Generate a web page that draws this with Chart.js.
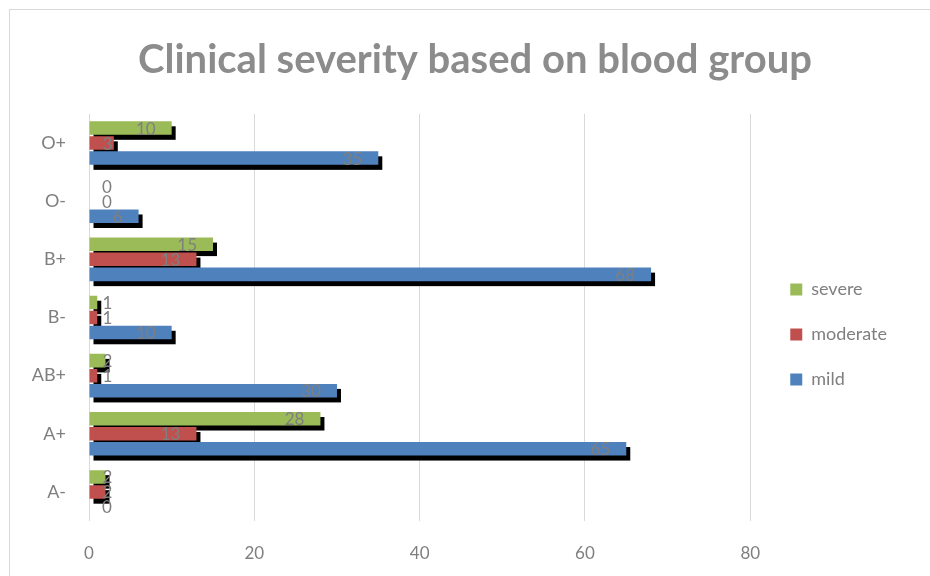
<!DOCTYPE html>
<html>
<head>
<meta charset="utf-8">
<title>Clinical severity based on blood group</title>
<script src="https://cdn.jsdelivr.net/npm/chart.js@4/dist/chart.umd.min.js"></script>
<style>
  html, body { margin: 0; padding: 0; background: #fff; overflow: hidden; }
  #frame { position: absolute; left: 9px; top: 9px; width: 1000px; height: 1000px; border: 1px solid #d9d9d9; }
  #chart { position: absolute; left: 0; top: 0; }
</style>
</head>
<body>
<div id="frame"></div>
<canvas id="chart" width="930" height="576"></canvas>
<script>
// blood groups, top to bottom
const categories = ['O+', 'O-', 'B+', 'B-', 'AB+', 'A+', 'A-'];
const severe   = [10, 0, 15, 1, 2, 28, 2];
const moderate = [3, 0, 13, 1, 1, 13, 2];
const mild     = [35, 6, 68, 10, 30, 65, 0];
const xTicks = [0, 20, 40, 60, 80];

const GREY = '#7f7f7f';
const FONT = 'Lato, "Open Sans", sans-serif';

// black drop shadow under every bar
const barShadow = {
  id: 'barShadow',
  beforeDatasetsDraw(chart){
    const ctx = chart.ctx;
    ctx.save();
    ctx.fillStyle = '#000';
    chart.data.datasets.forEach((ds, i) => {
      const meta = chart.getDatasetMeta(i);
      meta.data.forEach(bar => {
        const p = bar.getProps(['x', 'y', 'base', 'height'], true);
        const w = Math.abs(p.x - p.base);
        if (w < 0.5) return;
        ctx.fillRect(Math.min(p.x, p.base) + 4, p.y - p.height / 2 + 5, w, p.height);
      });
    });
    ctx.restore();
  }
};

// value labels at the inside end of each bar
const barValues = {
  id: 'barValues',
  afterDatasetsDraw(chart){
    const ctx = chart.ctx;
    ctx.save();
    ctx.font = '17px ' + FONT;
    ctx.fillStyle = GREY;
    ctx.textBaseline = 'middle';
    ctx.textAlign = 'right';
    chart.data.datasets.forEach((ds, i) => {
      const meta = chart.getDatasetMeta(i);
      meta.data.forEach((bar, j) => {
        const p = bar.getProps(['x', 'y', 'base'], true);
        const txt = String(ds.data[j]);
        const tw = ctx.measureText(txt).width;
        const right = Math.max(p.x - 16, p.base + 13 + tw);
        ctx.fillText(txt, right, p.y + 1);
      });
    });
    ctx.restore();
  }
};

// place the legend block and centre the title over the framed area
const blockNudge = {
  id: 'blockNudge',
  afterLayout(chart){
    const lg = chart.legend;
    lg.left += 13; lg.right += 13;
    lg.top += 17; lg.bottom += 17;
    const tb = chart.titleBlock;
    const shift = 475 - (tb.left + tb.right) / 2;
    tb.left += shift; tb.right += shift;
  }
};

new Chart(document.getElementById('chart'), {
  type: 'bar',
  data: {
    labels: categories,
    datasets: [
      { label: 'severe',   data: severe,   backgroundColor: '#9bbb59' },
      { label: 'moderate', data: moderate, backgroundColor: '#c0504d' },
      { label: 'mild',     data: mild,     backgroundColor: '#4f81bd' }
    ]
  },
  options: {
    indexAxis: 'y',
    responsive: false,
    animation: false,
    devicePixelRatio: 1,
    categoryPercentage: 0.775,
    barPercentage: 0.9,
    layout: { padding: { left: 20, right: 46, top: 0, bottom: 0 } },
    scales: {
      x: {
        min: 0, max: 80,
        afterBuildTicks(scale){ scale.ticks = xTicks.map(v => ({ value: v })); },
        afterFit(scale){ scale.height = 55; },
        grid: { color: '#d9d9d9', drawTicks: false },
        border: { display: false },
        ticks: { padding: 22, color: GREY, font: { family: FONT, size: 17 } }
      },
      y: {
        afterFit(scale){ scale.width = 69; },
        grid: { display: false, drawTicks: false },
        border: { display: false },
        ticks: { padding: 23, color: GREY, font: { family: FONT, size: 18 } }
      }
    },
    plugins: {
      title: {
        display: true,
        text: 'Clinical severity based on blood group',
        color: '#8c8c8c',
        font: { family: FONT, size: 40, weight: 'bold' },
        padding: { top: 36, bottom: 30 }
      },
      legend: {
        position: 'right',
        fullSize: false,
        labels: {
          boxWidth: 12, boxHeight: 12, padding: 27,
          color: GREY, font: { family: FONT, size: 18 }
        }
      },
      tooltip: { enabled: false }
    }
  },
  plugins: [barShadow, barValues, blockNudge]
});
</script>
</body>
</html>
